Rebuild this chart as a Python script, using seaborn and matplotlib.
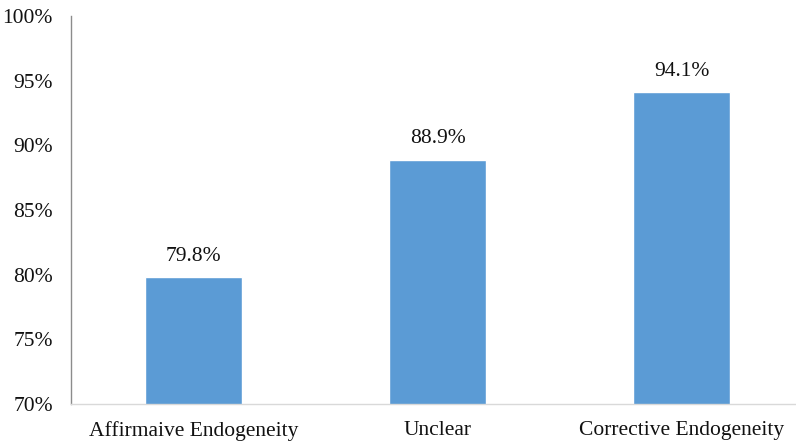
import matplotlib
matplotlib.use("Agg")
import matplotlib.pyplot as plt
import seaborn as sns
import pandas as pd
from matplotlib.ticker import FuncFormatter

categories = ["Affirmaive Endogeneity", "Unclear", "Corrective Endogeneity"]
values = [79.8, 88.9, 94.1]
value_labels = ["79.8%", "88.9%", "94.1%"]

sns.set_theme(style="white")
plt.rcParams['font.family'] = ['Liberation Serif', 'DejaVu Serif']

df = pd.DataFrame({"category": categories, "value": values})

fig = plt.figure(figsize=(7.96, 4.43), dpi=100)
ax = fig.add_axes([71/796, 1-404/443, 1-71/796, (404-16)/443])
sns.barplot(data=df, x="category", y="value", color="#5B9BD5", saturation=1,
            width=0.4, ax=ax)
ax.set_ylim(70, 100)
ax.set_xlim(-0.502, 2.469)
ax.set_yticks([70, 75, 80, 85, 90, 95, 100])
ax.yaxis.set_major_formatter(FuncFormatter(lambda v, p: f"{int(v)}%"))
ax.set_xlabel("")
ax.set_ylabel("")
ax.tick_params(axis='both', length=0, labelsize=15.5, colors="#111111")
ax.tick_params(axis='y', pad=13)
ax.tick_params(axis='x', pad=12)
for s in ["top", "right"]:
    ax.spines[s].set_visible(False)
ax.spines["left"].set_color("#8c8c8c")
ax.spines["left"].set_linewidth(1.0)
ax.spines["bottom"].set_color("#d9d9d9")
ax.spines["bottom"].set_linewidth(1.0)
for p, lab in zip(ax.patches, value_labels):
    ax.annotate(lab, (p.get_x() + p.get_width()/2, p.get_height()),
                xytext=(0, 8), textcoords="offset points", ha="center", va="bottom",
                fontsize=15.5, color="#111111")
fig.savefig("out.png", dpi=100)
